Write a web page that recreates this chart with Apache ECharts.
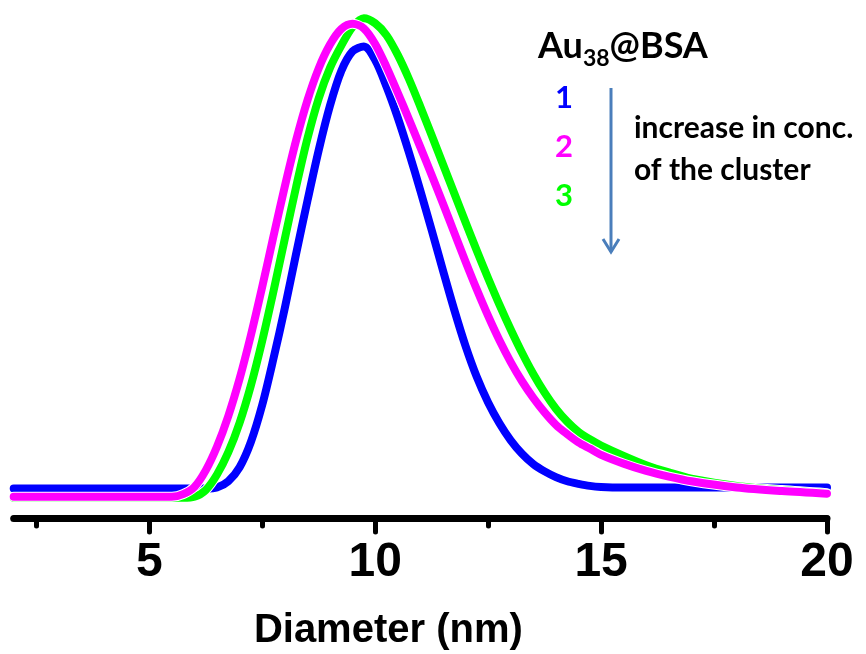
<!DOCTYPE html>
<html>
<head>
<meta charset="utf-8">
<script src="https://cdn.jsdelivr.net/npm/echarts@6/dist/echarts.min.js"></script>
<style>
html,body{margin:0;padding:0;background:#fff;}
#chart{width:866px;height:654px;}
</style>
</head>
<body>
<div id="chart"></div>
<script>
// Diameter (nm) sample points
const diameters = [2,3,4,
  5,5.25,5.5,5.75, 6,6.25,6.5,6.75, 7,7.25,7.5,7.75, 8,8.25,8.5,8.75, 9,9.25,9.5,9.75,
  10,10.25,10.5,10.75, 11,11.25,11.5,11.75, 12,12.25,12.5,12.75, 13,13.25,13.5,13.75, 14,14.25,14.5,14.75, 15,
  15.5,16,16.5,17,18,19,20];
// Intensity (arbitrary units)
const sample1 = [5.7,5.7,5.7,
  5.7,5.7,5.7,5.7, 5.7,5.7,5.9,7.1, 9.8,14.7,21.8,30.8, 40.5,51.0,61.2,71.0, 79.6,86.3,90.1,91.0,
  88.4,83.3,77.3,70.5, 63.2,55.6,47.8,40.2, 33.2,27.2,22.3,18.3, 15.0,12.4,10.4,9.0, 7.9,7.1,6.6,6.2, 6.0,
  5.9,5.9,5.9,5.9,5.9,5.9,5.9];
const sample2 = [4.1,4.1,4.1,
  4.1,4.1,4.1,4.6, 6.0,9.2,13.8,19.7, 26.9,35.3,44.6,54.4, 64.0,72.9,80.6,86.8, 91.4,94.4,95.4,94.5,
  91.5,87.1,82.1,76.9, 71.6,66.2,60.7,55.1, 49.5,44.1,39.0,34.3, 30.1,26.4,23.2,20.4, 18.0,16.2,14.6,13.4, 12.2,
  10.5,9.1,8.0,7.1,5.9,5.2,4.7];
const sample3 = [3.9,3.9,3.9,
  3.9,3.9,3.9,3.9, 4.1,5.4,8.4,12.7, 18.4,25.6,34.2,43.8, 53.9,63.9,73.2,81.0, 86.9,91.2,94.8,96.5,
  95.5,93.2,89.4,84.7, 79.4,73.9,68.3,62.7, 57.1,51.6,46.3,41.2, 36.4,31.9,27.8,24.2, 21.1,18.6,16.6,15.2, 14.0,
  12.0,10.2,8.8,7.6,6.2,5.4,4.8];
const seriesNames = ['1','2','3'];
const seriesColors = ['#0000ff','#ff00ff','#00ff00'];
const majorTicks = [5,10,15,20];
const minorTicks = [2.5,7.5,12.5,17.5];
const xMin = 2, xMax = 20;

function pairs(ys){ return diameters.map((x,i)=>[x, ys[i]]); }

const chart = echarts.init(document.getElementById('chart'), null, {renderer:'canvas'});
const axisFont = "'Liberation Sans Narrow','Arial Narrow','Liberation Sans',Arial,sans-serif";
const seriesData = [sample1, sample2, sample3];
// draw order: 1 (blue), 3 (green), 2 (magenta) on top
const drawOrder = [0,2,1];
const series = [];
drawOrder.forEach(i=>{
  series.push({
    type:'line', xAxisIndex:0, smooth:0.3, symbol:'none', silent:true,
    data:pairs(seriesData[i]),
    lineStyle:{color:'#ffffff', width:10, cap:'round', join:'round'},
    clip:false
  });
  series.push({
    name:seriesNames[i], type:'line', xAxisIndex:0, smooth:0.3, symbol:'none',
    data:pairs(seriesData[i]),
    lineStyle:{color:seriesColors[i], width:8, cap:'round', join:'round'},
    itemStyle:{color:seriesColors[i]},
    clip:false
  });
});
const option = {
  animation:false,
  backgroundColor:'#fff',
  title:{
    text:'{a|Au}{s|38}{a|@BSA}',
    left:533, top:20,
    textStyle:{
      rich:{
        a:{fontFamily:'Lato', fontWeight:'bold', fontSize:36, color:'#000', lineHeight:43},
        s:{fontFamily:'Lato', fontWeight:'bold', fontSize:23, color:'#000', verticalAlign:'bottom', padding:[0,0,-2,0]}
      }
    }
  },
  legend:{
    orient:'vertical', left:545, top:77,
    itemWidth:0, itemHeight:30, itemGap:18,
    selectedMode:false,
    data: seriesNames.map((n,i)=>({name:n, icon:'none', textStyle:{color:seriesColors[i], fontFamily:'Lato', fontWeight:'bold', fontSize:31}}))
  },
  grid:{left:13.7, right:39, top:0, bottom:136, containLabel:false, outerBoundsMode:'none'},
  xAxis:[{
    type:'value', min:xMin, max:xMax, position:'bottom',
    name:'Diameter (nm)', nameLocation:'middle', nameGap:93,
    nameTextStyle:{fontFamily:axisFont, fontWeight:'bold', fontSize:40, color:'#000', padding:[0,64,0,0]},
    axisLine:{show:true, lineStyle:{color:'#000', width:7, cap:'round'}},
    axisTick:{show:true, customValues:majorTicks, length:14, inside:false, lineStyle:{color:'#000', width:5, cap:'round'}},
    axisLabel:{show:true, customValues:majorTicks, margin:21, fontFamily:axisFont, fontWeight:'bold', fontSize:48, color:'#000'},
    splitLine:{show:false}
  },{
    type:'value', min:xMin, max:xMax, position:'bottom', offset:0,
    axisLine:{show:false},
    axisTick:{show:true, customValues:minorTicks, length:8, lineStyle:{color:'#000', width:5, cap:'round'}},
    axisLabel:{show:false},
    splitLine:{show:false}
  }],
  yAxis:{type:'value', min:0, max:100, show:false},
  series: series,
  graphic:[
    {type:'line', shape:{x1:611, y1:88, x2:611, y2:252}, style:{stroke:'#4a7ebb', lineWidth:3}},
    {type:'polyline', shape:{points:[[603,239],[611,252],[619,239]]}, style:{stroke:'#4a7ebb', lineWidth:3, fill:null}},
    {type:'text', left:634, top:107, style:{text:'increase in conc.\nof the cluster', font:"bold 30px Lato", lineHeight:42, fill:'#000'}}
  ]
};
chart.setOption(option);
</script>
</body>
</html>
